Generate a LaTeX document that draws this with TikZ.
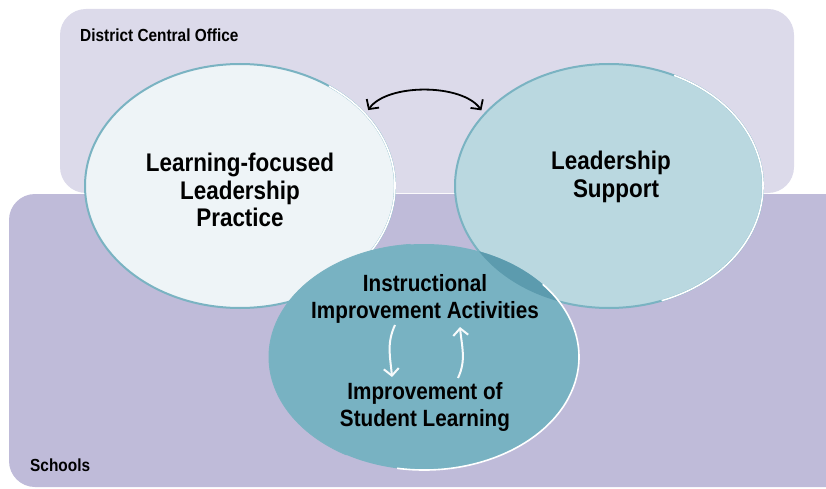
\documentclass[tikz,border=0pt]{standalone}
\usepackage{fontspec}
\setmainfont{Liberation Sans}[FakeStretch=0.88]
\usetikzlibrary{shapes.geometric,arrows.meta}
\definecolor{districtbg}{HTML}{DCDAEA}
\definecolor{schoolbg}{HTML}{BFBBD9}
\definecolor{lefell}{HTML}{EEF4F7}
\definecolor{rightell}{HTML}{BAD8E0}
\definecolor{botell}{HTML}{78B2C2}
\definecolor{overlapc}{HTML}{5C9BAE}
\definecolor{rimteal}{HTML}{7AB3C2}
\tikzset{
  region/.style={rounded corners=26pt, draw=none},
  bubble/.style={ellipse, inner sep=0pt, minimum width=310pt, minimum height=244pt},
  biglabel/.style={align=center, font=\fontsize{25.5}{27.5}\selectfont\bfseries, text=black},
  midlabel/.style={align=center, font=\fontsize{23.5}{26.5}\selectfont\bfseries, text=black},
  arealabel/.style={anchor=base west, inner sep=0pt, font=\fontsize{17.5}{19}\selectfont\bfseries, text=black},
  rim/.style={draw=rimteal, line width=2pt},
  shine/.style={draw=white, line width=1.6pt},
  barb/.tip={Straight Barb[length=7pt,width=15pt]},
  cyclearrow/.style={draw=white!94!botell, line width=2pt, -{Straight Barb[length=7pt,width=15pt]}},
}
\begin{document}
\begin{tikzpicture}[x=1pt,y=1pt]
\useasboundingbox (0,0) rectangle (826,488);
% regions
\fill[districtbg, region] (60,295) rectangle (794,479);
\fill[schoolbg, region] (9,1) rectangle (860,294);
\node[arealabel] (dco) at (80,446) {District Central Office};
\node[arealabel] (sch) at (30,17) {Schools};
% left and right ellipses
\node[bubble, fill=lefell, rim] (L) at (240,302) {};
\draw[shine] (L.center) ++(-65:155 and 122) arc[start angle=-65, end angle=55, x radius=155, y radius=122];
\node[bubble, fill=rightell, rim, minimum width=308pt] (R) at (609,302) {};
\draw[shine] (R.center) ++(-70:154 and 122) arc[start angle=-70, end angle=65, x radius=154, y radius=122];
% bottom ellipse
\node[bubble, fill=botell, draw=none, minimum height=226pt] (B) at (424,131) {};
\begin{scope}
  \clip (R.center) ellipse[x radius=154, y radius=122];
  \fill[overlapc] (B.center) ellipse[x radius=155, y radius=113];
\end{scope}
\draw[rimteal!80!botell, line width=1pt] (B.center) ++(95:155 and 113) arc[start angle=95, end angle=240, x radius=155, y radius=113];
\draw[shine] (B.center) ++(-100:155 and 113) arc[start angle=-100, end angle=40, x radius=155, y radius=113];
% labels
\node[biglabel] (lt) at (240,298) {Learning-focused\\Leadership\\Practice};
\node[biglabel] (rt) at (611,311) {Leadership\\\hspace*{10pt}Support};
\node[midlabel] (bt1) at (425,189) {Instructional\\Improvement Activities};
\node[midlabel] (bt2) at (425,81) {Improvement of\\Student Learning};
% double arrow between top ellipses
\draw[line width=1.8pt, shorten <=4pt, shorten >=4pt, barb-barb]
  (L.30) to[out=55, in=125, looseness=0.8] (R.150);
% cycle arrows
\coordinate (c1) at (395,163);
\coordinate (c2) at (392,111);
\coordinate (c3) at (458,110);
\coordinate (c4) at (460,161);
\draw[cyclearrow] (c1) to[out=245, in=95] (c2);
\draw[cyclearrow] (c3) to[out=65, in=-85] (c4);
\end{tikzpicture}
\end{document}
